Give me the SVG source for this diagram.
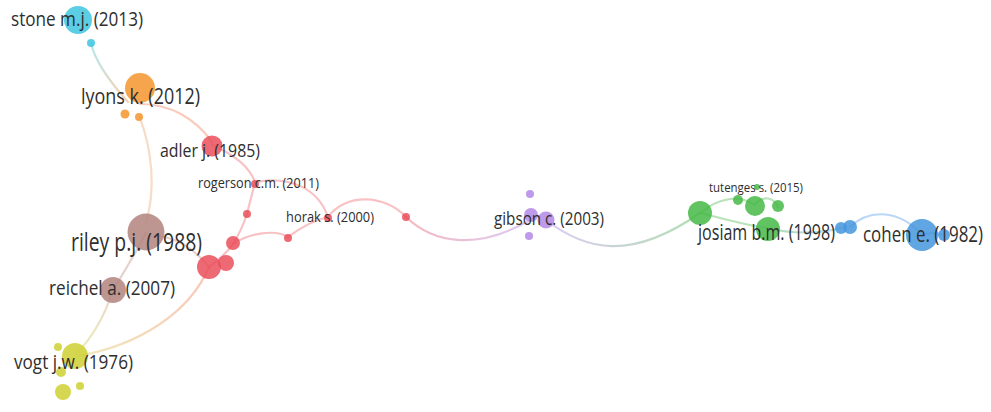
<svg xmlns="http://www.w3.org/2000/svg" width="991" height="412" viewBox="0 0 991 412">
<style>
.e{fill:none;stroke-width:2.2;stroke-linecap:round;opacity:0.6}
.n circle{opacity:0.85}
.l{font-family:"Open Sans","Noto Sans",sans-serif;fill:#2e2e2e}
.cy{fill:#3fc6df}.or{fill:#f5952e}.rd{fill:#ea4f5a}.br{fill:#b1847f}.ye{fill:#cfd031}.pu{fill:#b488e6}.gr{fill:#45b845}.bl{fill:#4496de}
</style>
<defs>
<linearGradient id="gCyOr" gradientUnits="userSpaceOnUse" x1="91" y1="43" x2="130" y2="100"><stop offset="0" stop-color="#7fd8e4"/><stop offset="1" stop-color="#f5b27a"/></linearGradient>
<linearGradient id="gRdPu" gradientUnits="userSpaceOnUse" x1="406" y1="217" x2="530" y2="222"><stop offset="0" stop-color="#f08a92"/><stop offset="1" stop-color="#c4a8ec"/></linearGradient>
<linearGradient id="gPuGr" gradientUnits="userSpaceOnUse" x1="546" y1="220" x2="700" y2="213"><stop offset="0" stop-color="#c4a8ec"/><stop offset="1" stop-color="#80cc80"/></linearGradient>
<linearGradient id="gGrBl" gradientUnits="userSpaceOnUse" x1="768" y1="228" x2="841" y2="228"><stop offset="0" stop-color="#80cc80"/><stop offset="1" stop-color="#8cbef0"/></linearGradient>
<linearGradient id="gBrYe" gradientUnits="userSpaceOnUse" x1="113" y1="290" x2="78" y2="352"><stop offset="0" stop-color="#d8b8a8"/><stop offset="1" stop-color="#e2e08a"/></linearGradient>
<linearGradient id="gRdYe" gradientUnits="userSpaceOnUse" x1="209" y1="267" x2="85" y2="355"><stop offset="0" stop-color="#f6a08a"/><stop offset="1" stop-color="#e8d890"/></linearGradient>
</defs>
<rect width="991" height="412" fill="#ffffff"/>
<g id="connectors">
<path class="e" stroke="url(#gCyOr)" d="M91,43 C95,62 110,82 128,102"/>
<path class="e" stroke="#f5a890" d="M140,104 C170,104 195,118 212,142"/>
<path class="e" stroke="#f2c4a4" d="M140,118 C152,150 156,190 146,222"/>
<path class="e" stroke="#d4b4ac" d="M146,232 C135,255 122,275 113,290"/>
<path class="e" stroke="url(#gBrYe)" d="M113,290 C104,318 92,338 76,354"/>
<path class="e" stroke="#f49a9e" d="M212,145 C235,155 250,168 255,182 C252,195 249,205 247,214 C243,226 238,236 233,244 C226,254 216,262 209,267"/>
<path class="e" stroke="#f49a9e" d="M255,182 C290,176 318,188 328,217"/>
<path class="e" stroke="#f49a9e" d="M233,244 C250,233 275,229 288,237 C300,228 315,220 328,217"/>
<path class="e" stroke="#f49a9e" d="M328,217 C345,193 385,194 406,217"/>
<path class="e" stroke="url(#gRdPu)" d="M406,217 C432,242 475,252 530,220"/>
<path class="e" stroke="#d8b0a8" d="M158,236 C178,238 195,250 209,267"/>
<path class="e" stroke="url(#gRdYe)" d="M209,267 C190,312 140,345 78,356"/>
<path class="e" stroke="url(#gPuGr)" d="M546,220 C585,250 630,262 700,213"/>
<path class="e" stroke="#8ad08a" d="M700,213 C718,198 740,194 754,205 C764,194 774,198 778,207"/>
<path class="e" stroke="#8ad08a" d="M700,213 C722,218 748,226 768,228"/>
<path class="e" stroke="url(#gGrBl)" d="M768,228 C790,234 820,234 841,228"/>
<path class="e" stroke="#8cbef0" d="M850,227 C870,208 900,210 922,235"/>
<path class="e" stroke="#8cbef0" d="M922,235 C930,232 938,233 944,235"/>
</g>
<g id="stone" class="n">
<circle class="cy" cx="78" cy="20" r="14"/>
<circle class="cy" cx="91" cy="43" r="4"/>
<text class="l" x="11" y="26" font-size="20" textLength="132" lengthAdjust="spacingAndGlyphs">stone m.j. (2013)</text>
</g>
<g id="lyons" class="n">
<circle class="or" cx="140" cy="88" r="15"/>
<circle class="or" cx="125" cy="114" r="4.5"/>
<circle class="or" cx="139" cy="117" r="4"/>
<text class="l" x="81" y="104" font-size="21" textLength="119" lengthAdjust="spacingAndGlyphs">lyons k. (2012)</text>
</g>
<g id="adler" class="n">
<circle class="rd" cx="212" cy="146" r="10.5"/>
<text class="l" x="160" y="157" font-size="18" textLength="100" lengthAdjust="spacingAndGlyphs">adler j. (1985)</text>
</g>
<g id="rogerson" class="n">
<circle class="rd" cx="255" cy="184" r="4"/>
<text class="l" x="198" y="188" font-size="14" textLength="121" lengthAdjust="spacingAndGlyphs">rogerson c.m. (2011)</text>
</g>
<g id="red-cluster" class="n">
<circle class="rd" cx="247" cy="214" r="4"/>
<circle class="rd" cx="233" cy="243" r="7"/>
<circle class="rd" cx="226" cy="263" r="8"/>
<circle class="rd" cx="209" cy="267" r="12"/>
<circle class="rd" cx="288" cy="238" r="4"/>
<circle class="rd" cx="406" cy="217" r="4"/>
</g>
<g id="horak" class="n">
<circle class="rd" cx="328" cy="218" r="4"/>
<text class="l" x="286" y="222" font-size="14" textLength="88" lengthAdjust="spacingAndGlyphs">horak s. (2000)</text>
</g>
<g id="riley" class="n">
<circle class="br" cx="146" cy="232" r="18.5"/>
<text class="l" x="71" y="251" font-size="25" textLength="131" lengthAdjust="spacingAndGlyphs">riley p.j. (1988)</text>
</g>
<g id="reichel" class="n">
<circle class="br" cx="113" cy="290" r="13"/>
<text class="l" x="49" y="295" font-size="20" textLength="126" lengthAdjust="spacingAndGlyphs">reichel a. (2007)</text>
</g>
<g id="vogt" class="n">
<circle class="ye" cx="75" cy="356" r="13"/>
<circle class="ye" cx="58" cy="347" r="4"/>
<circle class="ye" cx="61" cy="372" r="5"/>
<circle class="ye" cx="80" cy="386" r="4"/>
<circle class="ye" cx="63" cy="392" r="8"/>
<text class="l" x="14" y="369" font-size="20" textLength="119" lengthAdjust="spacingAndGlyphs">vogt j.w. (1976)</text>
</g>
<g id="gibson" class="n">
<circle class="pu" cx="530" cy="194" r="4"/>
<circle class="pu" cx="531" cy="215" r="7"/>
<circle class="pu" cx="546" cy="220" r="8.5"/>
<circle class="pu" cx="529" cy="236" r="4"/>
<text class="l" x="494" y="225" font-size="18" textLength="110" lengthAdjust="spacingAndGlyphs">gibson c. (2003)</text>
</g>
<g id="green-cluster" class="n">
<circle class="gr" cx="700" cy="213" r="12"/>
<circle class="gr" cx="738" cy="200" r="5"/>
<circle class="gr" cx="755" cy="206" r="10"/>
<circle class="gr" cx="778" cy="206" r="6"/>
</g>
<g id="tutenges" class="n">
<circle class="gr" cx="757" cy="187" r="3"/>
<text class="l" x="709" y="192" font-size="13" textLength="94" lengthAdjust="spacingAndGlyphs">tutenges s. (2015)</text>
</g>
<g id="josiam" class="n">
<circle class="gr" cx="768" cy="229" r="12"/>
<text class="l" x="698" y="240" font-size="21" textLength="137" lengthAdjust="spacingAndGlyphs">josiam b.m. (1998)</text>
</g>
<g id="blue-cluster" class="n">
<circle class="bl" cx="841" cy="228" r="6"/>
<circle class="bl" cx="850" cy="227" r="7"/>
</g>
<g id="cohen" class="n">
<circle class="bl" cx="922" cy="235" r="16"/>
<circle class="bl" cx="944" cy="235" r="6"/>
<text class="l" x="983" y="242" font-size="21" text-anchor="end" textLength="120" lengthAdjust="spacingAndGlyphs">cohen e. (1982)</text>
</g>
</svg>
